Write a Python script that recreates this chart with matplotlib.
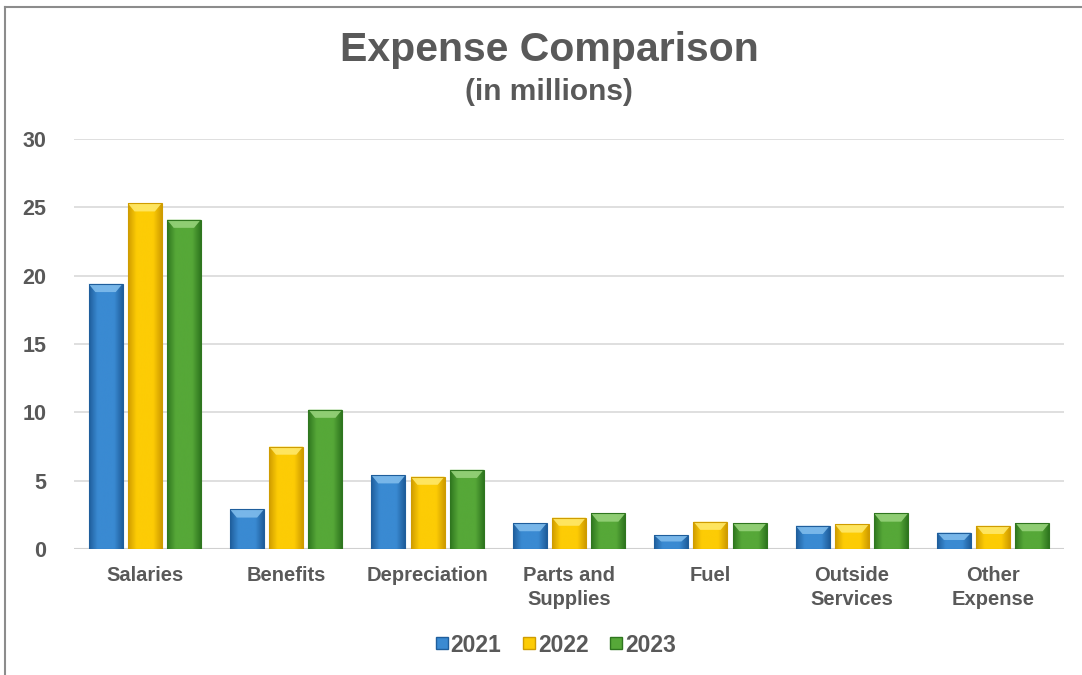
import matplotlib.pyplot as plt
import numpy as np
from matplotlib.colors import LinearSegmentedColormap
from matplotlib.patches import Polygon, Rectangle
from matplotlib.lines import Line2D

# --- Data (in millions) ---
categories = ["Salaries", "Benefits", "Depreciation", "Parts and\nSupplies",
              "Fuel", "Outside\nServices", "Other\nExpense"]
years = ["2021", "2022", "2023"]
vals_2021 = [19.4, 2.9, 5.4, 1.9, 1.0, 1.7, 1.2]
vals_2022 = [25.3, 7.5, 5.3, 2.3, 2.0, 1.8, 1.7]
vals_2023 = [24.1, 10.2, 5.8, 2.6, 1.9, 2.6, 1.9]
series = [vals_2021, vals_2022, vals_2023]

# edge / mid / highlight colours for the bevelled look
colors = [
    ("#1f5e9c", "#3a8ad2", "#7fbcec"),
    ("#cf9c00", "#fdcc05", "#ffe86a"),
    ("#2f761f", "#56a838", "#96d27a"),
]

TEXT = "#595959"
plt.rcParams["font.family"] = ["Liberation Sans", "DejaVu Sans"]
plt.rcParams["font.weight"] = "bold"

fig = plt.figure(figsize=(10.82, 6.75), dpi=100)
ax = fig.add_axes([74 / 1082, 1 - 549 / 675, (1064 - 74) / 1082, (549 - 139) / 675])

x = np.arange(len(categories))
width = 0.24
step = 0.277

ax.set_xlim(-0.5, len(categories) - 0.5)
ax.set_ylim(0, 30)

bevel = 0.6  # height of the top bevel, data units


def draw_bar(ax, x0, h, w, cols):
    dark, mid, light = cols
    cmap = LinearSegmentedColormap.from_list("b", [dark, mid, mid, mid, dark])
    grad = np.linspace(0, 1, 64).reshape(1, -1)
    rect = Rectangle((x0, 0), w, h, facecolor="none", edgecolor="none")
    ax.add_patch(rect)
    im = ax.imshow(grad, cmap=cmap, extent=(x0, x0 + w, 0, h), aspect="auto",
                   interpolation="bicubic", zorder=2)
    im.set_clip_path(rect)
    # top bevel
    b = min(bevel, h * 0.45)
    inset = w * 0.2
    top = Polygon([(x0, h), (x0 + w, h), (x0 + w - inset, h - b), (x0 + inset, h - b)],
                  closed=True, facecolor=light, edgecolor="none", alpha=0.9, zorder=3)
    ax.add_patch(top)
    ax.add_patch(Rectangle((x0, 0), w, h, facecolor="none", edgecolor=dark,
                           linewidth=0.8, zorder=4))


for i, vals in enumerate(series):
    for j, v in enumerate(vals):
        cx = x[j] + (i - 1) * step
        draw_bar(ax, cx - width / 2, v, width, colors[i])

ax.set_yticks(np.arange(0, 31, 5))
ax.yaxis.grid(True, color="#d9d9d9", linewidth=1.2)
ax.set_axisbelow(True)
for s in ax.spines.values():
    s.set_visible(False)
ax.axhline(0, color="#d0d0d0", linewidth=1.5, zorder=1)
ax.set_xticks(x)
ax.set_xticklabels(categories, fontsize=14.5, color=TEXT, fontweight="bold",
                   linespacing=1.35)
ax.tick_params(axis="x", length=0, pad=12)
ax.tick_params(axis="y", length=0, pad=20, labelsize=15.5, labelcolor=TEXT)

fig.text(549 / 1082, 1 - 50 / 675, "Expense Comparison", ha="center", va="center",
         fontsize=29.5, fontweight="bold", color=TEXT)
fig.text(549 / 1082, 1 - 92 / 675, "(in millions)", ha="center", va="center",
         fontsize=21.5, fontweight="bold", color=TEXT)

handles = [Line2D([], [], marker="s", linestyle="none", markersize=9,
                  markerfacecolor=c[1], markeredgecolor=c[0]) for c in colors]
fig.legend(handles, years, loc="center", bbox_to_anchor=(552 / 1082, 1 - 645 / 675),
           ncol=3, frameon=False, handletextpad=-0.2, columnspacing=0.6,
           handlelength=1.2, labelcolor=TEXT, prop={"weight": "bold", "size": 16.5})

# border on top and left only
fig.add_artist(Line2D([5 / 1082, 5 / 1082], [0, 1 - 7 / 675], transform=fig.transFigure,
                      color="#8c8c8c", linewidth=1.5))
fig.add_artist(Line2D([5 / 1082, 1], [1 - 7 / 675, 1 - 7 / 675], transform=fig.transFigure,
                      color="#8c8c8c", linewidth=1.5))

fig.savefig("out.png", dpi=100)
